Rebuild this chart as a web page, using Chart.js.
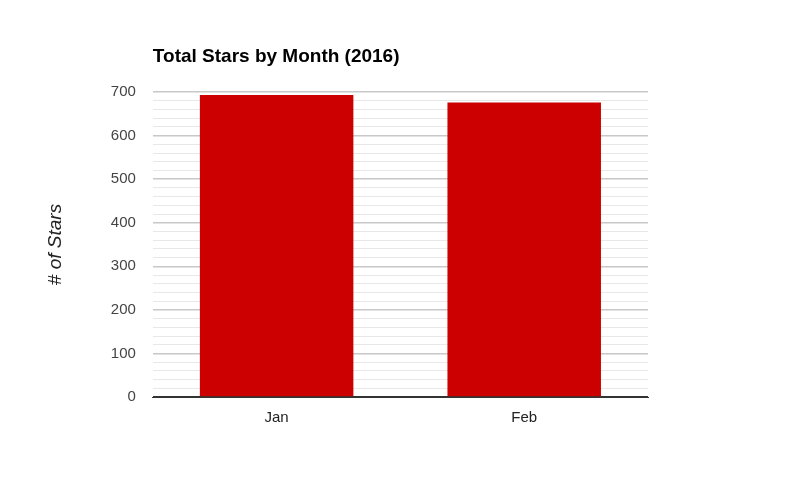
<!DOCTYPE html>
<html>
<head>
<meta charset="utf-8">
<script src="https://cdn.jsdelivr.net/npm/chart.js@4/dist/chart.umd.min.js"></script>
<style>
  html, body { margin: 0; padding: 0; background: #fff; }
  #wrap { width: 800px; height: 491px; }
</style>
</head>
<body>
<div id="wrap"><canvas id="stars-chart" width="800" height="491"></canvas></div>
<script>
// дані з картинки
const months = ['Jan', 'Feb'];
const totalStars = [693, 676];
const chartTitle = 'Total Stars by Month (2016)';
const yTitle = '# of Stars';

// заголовок зліва над областю графіка
const titlePlugin = {
    id: 'leftTitle',
    afterDraw(chart) {
        const ctx = chart.ctx;
        ctx.save();
        ctx.font = 'bold 19px "Liberation Sans", Arial, sans-serif';
        ctx.fillStyle = '#000';
        ctx.textBaseline = 'middle';
        ctx.fillText(chartTitle, chart.chartArea.left, 57);
        ctx.restore();
    }
};

const ctx = document.getElementById('stars-chart').getContext('2d');
new Chart(ctx, {
    type: 'bar',
    data: {
        labels: months,
        datasets: [{
            data: totalStars,
            backgroundColor: '#cc0000',
            barPercentage: 0.62,
            categoryPercentage: 1
        }]
    },
    options: {
        responsive: false,
        animation: false,
        layout: { padding: { left: 44, right: 152, top: 92, bottom: 60 } },
        plugins: { legend: { display: false }, tooltip: { enabled: false } },
        scales: {
            x: {
                grid: { display: false },
                border: { color: '#333' },
                ticks: { color: '#222', font: { family: '"Liberation Sans", Arial', size: 15 }, padding: 4 }
            },
            y: {
                min: 0,
                max: 700,
                border: { display: false },
                grid: {
                    drawTicks: false,
                    color: c => c.tick.value === 0 ? '#333' : (c.tick.value % 100 === 0 ? '#c8c8c8' : '#e8e8e8'),
                    lineWidth: c => c.tick.value % 100 === 0 ? 1.5 : 1
                },
                ticks: {
                    stepSize: 20,
                    autoSkip: false,
                    padding: 17,
                    color: '#444',
                    font: { family: '"Liberation Sans", Arial', size: 15 },
                    callback: v => v % 100 === 0 ? v : ''
                },
                title: {
                    display: true,
                    text: yTitle,
                    color: '#222',
                    font: { family: '"Liberation Sans", Arial', size: 19, style: 'italic' },
                    padding: { top: 0, bottom: 27 }
                }
            }
        }
    },
    plugins: [titlePlugin]
});
</script>
</body>
</html>
